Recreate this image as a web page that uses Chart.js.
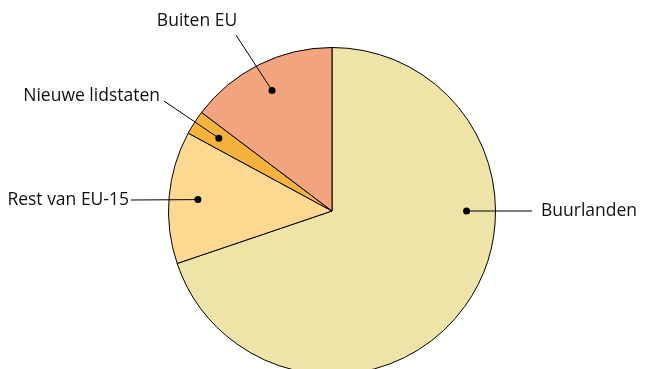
<!DOCTYPE html>
<html>
<head>
<meta charset="utf-8">
<script src="https://cdn.jsdelivr.net/npm/chart.js@4/dist/chart.umd.min.js"></script>
<style>
  html, body { margin: 0; padding: 0; background: #fff; overflow: hidden; }
  #wrap { width: 646px; height: 380px; position: relative; }
</style>
</head>
<body>
<div id="wrap"><canvas id="pieChart"></canvas></div>
<script>
// share per region (percent)
const regions = ['Buurlanden', 'Rest van EU-15', 'Nieuwe lidstaten', 'Buiten EU'];
const shares = [69.8, 13.1, 2.4, 14.7];
const sliceColors = ['#EEE4A8', '#FDD891', '#F6B33B', '#F2A47F'];

// where each callout goes (dot angle in degrees clockwise from top, null = middle of slice)
const callouts = [
    { dotAngle: 90,   lineTo: [532, 211], text: [541, 211], align: 'left' },
    { dotAngle: null, lineTo: [131, 200], text: [129, 200], align: 'right' },
    { dotAngle: null, lineTo: [164, 101], text: [160, 96],  align: 'right' },
    { dotAngle: null, lineTo: [236, 35],  text: [197, 21],  align: 'center' }
];

const calloutPlugin = {
    id: 'callouts',
    afterDraw(chart) {
        const ctx = chart.ctx;
        const arcs = chart.getDatasetMeta(0).data;
        ctx.save();
        arcs.forEach((arc, i) => {
            const c = callouts[i];
            let a = (arc.startAngle + arc.endAngle) / 2;
            if (c.dotAngle !== null) a = (c.dotAngle - 90) * Math.PI / 180;
            const r = arc.outerRadius * 0.823;
            const dx = arc.x + r * Math.cos(a);
            const dy = arc.y + r * Math.sin(a);

            ctx.strokeStyle = '#000';
            ctx.lineWidth = 1;
            ctx.beginPath();
            ctx.moveTo(dx, dy);
            ctx.lineTo(c.lineTo[0], c.lineTo[1]);
            ctx.stroke();

            ctx.fillStyle = '#000';
            ctx.beginPath();
            ctx.arc(dx, dy, 3.5, 0, Math.PI * 2);
            ctx.fill();

            ctx.fillStyle = '#111';
            ctx.font = '17.5px "Open Sans"';
            ctx.textAlign = c.align;
            ctx.textBaseline = 'middle';
            ctx.fillText(regions[i], c.text[0], c.text[1]);
        });
        ctx.restore();
    }
};

const ctx = document.getElementById('pieChart').getContext('2d');
new Chart(ctx, {
    type: 'pie',
    data: {
        labels: regions,
        datasets: [{
            data: shares,
            backgroundColor: sliceColors,
            borderColor: '#000',
            borderWidth: 1
        }]
    },
    options: {
        responsive: true,
        maintainAspectRatio: false,
        animation: false,
        layout: { padding: { top: 47, bottom: 5, left: 168, right: 150 } },
        plugins: {
            legend: { display: false },
            tooltip: { enabled: false }
        }
    },
    plugins: [calloutPlugin]
});
</script>
</body>
</html>
